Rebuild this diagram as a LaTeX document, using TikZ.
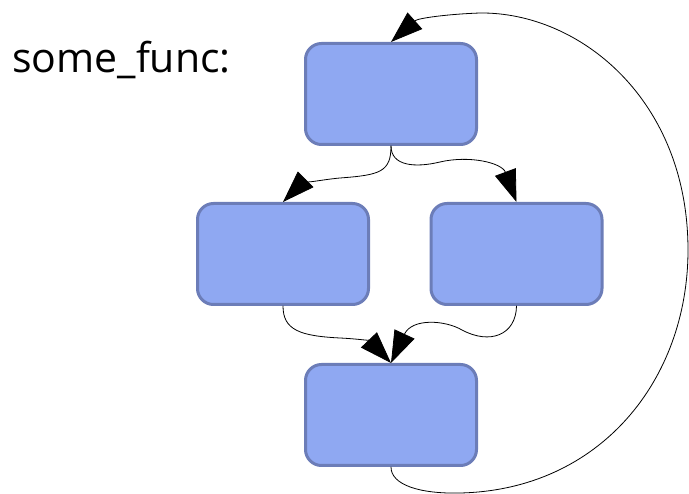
\documentclass[tikz,border=0pt]{standalone}
\usepackage{fontspec}
\setmainfont{Open Sans}
\usetikzlibrary{arrows.meta}
\definecolor{blockfill}{RGB}{143,168,242}
\definecolor{blockline}{RGB}{108,125,184}
\tikzset{
  every picture/.append style={line cap=round},
  cfg block/.style={rectangle,rounded corners=16pt,fill=blockfill,draw=blockline,
    line width=3pt,minimum width=171pt,minimum height=101pt,inner sep=0pt},
  cfg edge/.style={line width=0.8pt,-{Triangle[length=32pt,width=22pt]}},
  cfg label/.style={font=\fontsize{41}{48}\selectfont,inner sep=0pt}
}
\begin{document}
\begin{tikzpicture}[x=1pt,y=-1pt]
\useasboundingbox (0,0) rectangle (689,494);
\node[cfg label,anchor=base west] (name) at (12,73) {some\_func:};
\node[cfg block] (entry) at (391,94) {};
\node[cfg block] (then) at (283,254) {};
\node[cfg block] (else) at (516.5,254) {};
\node[cfg block] (join) at (391,415) {};
% branches out of the entry block
\draw[cfg edge] (entry.south) .. controls (391,172) and (380,175) .. (340,178)
  .. controls (318,180) and (300,185) .. (then.north);
\draw[cfg edge] (entry.south) .. controls (391,166) and (415,168) .. (440,162)
  .. controls (470,155) and (502,163) .. (else.north);
% both branches meet again
\draw[cfg edge] (then.south) .. controls (283,330) and (300,336) .. (340,338)
  .. controls (360,339) and (370,341) .. (join.north);
\draw[cfg edge] (else.south) .. controls (516,335) and (490,345) .. (462,330)
  .. controls (445,320) and (412,318) .. (join.north);
% loop back to the top
\draw[cfg edge] (join.south) .. controls (391,485) and (420,494) .. (460,493)
  .. controls (600,490) and (688,380) .. (688,250)
  .. controls (688,100) and (580,12) .. (480,13)
  .. controls (450,14) and (418,18) .. (entry.north);
\end{tikzpicture}
\end{document}
